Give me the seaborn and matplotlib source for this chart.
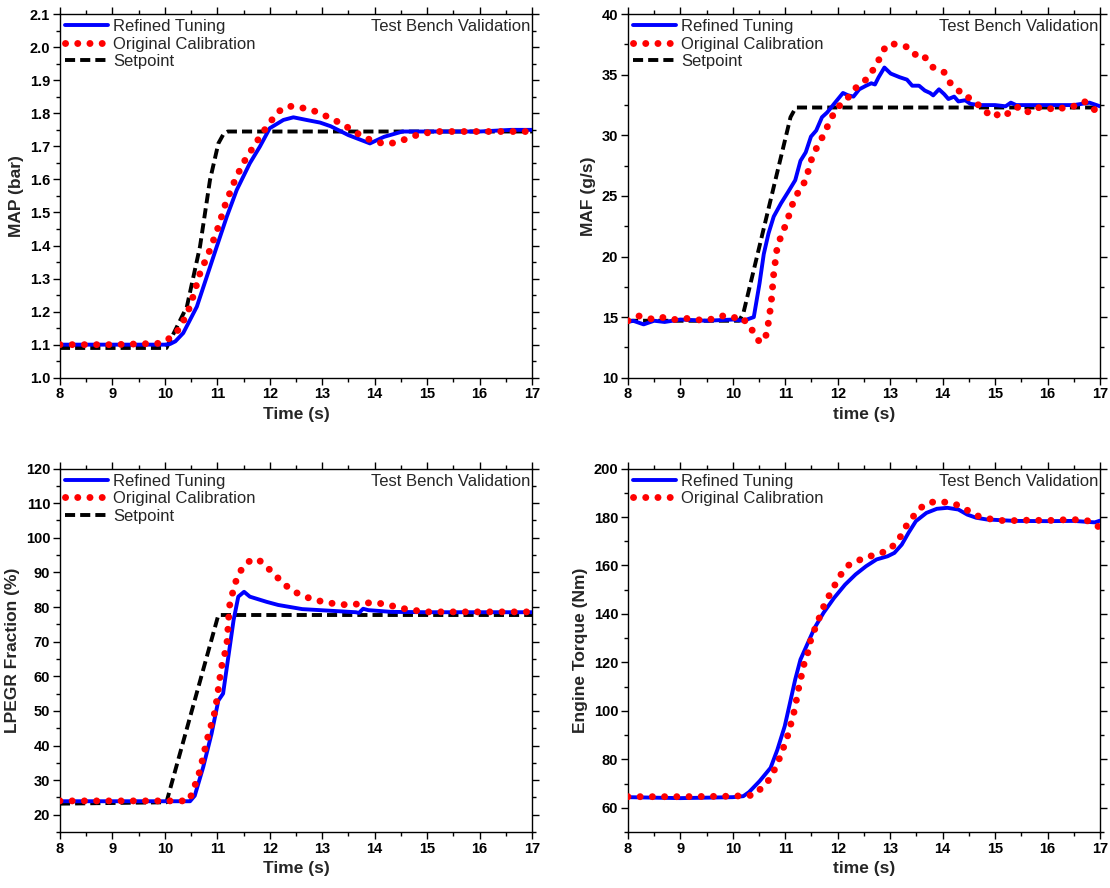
import numpy as np
import seaborn as sns
import matplotlib
matplotlib.use("Agg")
import matplotlib.pyplot as plt
from matplotlib.ticker import MultipleLocator, AutoMinorLocator

# ---- MAP (bar) ----
map_sp_t = [8.0, 10.03, 10.42, 10.67, 10.86, 11.02, 11.12, 11.2, 17.0]
map_sp_v = [1.09, 1.09, 1.215, 1.397, 1.598, 1.709, 1.738, 1.745, 1.745]
map_ref_t = [8.0, 9.0, 10.0, 10.1, 10.2, 10.35, 10.61, 10.8, 10.99, 11.18, 11.37, 11.62,
             11.81, 12.0, 12.26, 12.45, 12.7, 12.96, 13.16, 13.5, 13.91, 14.18, 14.53,
             15.0, 16.0, 16.6, 17.0]
map_ref_v = [1.10, 1.10, 1.10, 1.102, 1.11, 1.135, 1.215, 1.306, 1.397, 1.487, 1.568,
             1.649, 1.699, 1.755, 1.78, 1.788, 1.78, 1.772, 1.761, 1.734, 1.709, 1.729,
             1.745, 1.745, 1.745, 1.75, 1.75]
map_org_t = [8.0, 9.0, 9.91, 10.1, 10.29, 10.48, 10.67, 10.86, 11.02, 11.15, 11.31,
             11.43, 11.53, 11.65, 11.75, 11.94, 12.04, 12.16, 12.35, 12.58, 12.8,
             12.99, 13.2, 13.4, 13.59, 13.78, 14.0, 14.24, 14.46, 14.7, 14.9, 15.2,
             16.0, 17.0]
map_org_v = [1.10, 1.10, 1.104, 1.12, 1.15, 1.215, 1.316, 1.387, 1.457, 1.523, 1.588,
             1.629, 1.659, 1.689, 1.714, 1.759, 1.78, 1.805, 1.822, 1.818, 1.81,
             1.798, 1.782, 1.766, 1.747, 1.729, 1.714, 1.707, 1.714, 1.729, 1.739, 1.745,
             1.745, 1.745]

# ---- MAF (g/s) ----
maf_sp_t = [8.0, 10.12, 10.2, 11.1, 11.2, 17.0]
maf_sp_v = [14.7, 14.7, 15.3, 31.5, 32.3, 32.3]
maf_ref_t = [8.0, 8.1, 8.3, 8.5, 8.7, 9.0, 9.5, 10.0, 10.2, 10.4, 10.51, 10.59, 10.68,
             10.78, 10.92, 11.05, 11.19, 11.29, 11.39, 11.49, 11.59, 11.7, 11.8, 11.93,
             12.1, 12.2, 12.3, 12.41, 12.54, 12.64, 12.71, 12.78, 12.89, 13.01, 13.18,
             13.32, 13.42, 13.55, 13.66, 13.76, 13.82, 13.93, 14.03, 14.11, 14.22, 14.3,
             14.43, 14.53, 14.7, 15.0, 15.2, 15.3, 15.4, 15.8, 16.5, 16.8, 17.0]
maf_ref_v = [14.6, 14.7, 14.4, 14.7, 14.6, 14.8, 14.7, 14.8, 14.7, 15.0, 17.8, 20.2, 21.9,
             23.3, 24.4, 25.3, 26.3, 27.9, 28.6, 29.9, 30.4, 31.5, 31.9, 32.6,
             33.5, 33.3, 33.2, 33.8, 34.1, 34.3, 34.2, 34.8, 35.6, 35.1, 34.8,
             34.6, 34.1, 34.1, 33.7, 33.5, 33.3, 33.8, 33.4, 33.0, 33.2, 32.8,
             32.9, 32.6, 32.5, 32.5, 32.4, 32.7, 32.5, 32.5, 32.5, 32.7, 32.4]
maf_org_t = [8.0, 8.1, 8.2, 8.3, 8.5, 8.7, 8.9, 9.1, 9.3, 9.5, 9.7, 9.8, 10.0, 10.1, 10.2,
             10.3, 10.41, 10.51, 10.61, 10.66, 10.73, 10.78, 10.85, 10.97, 11.05, 11.11,
             11.19, 11.29, 11.39, 11.49, 11.59, 11.7, 11.8, 11.9, 12.0, 12.14, 12.24,
             12.34, 12.44, 12.54, 12.64, 12.74, 12.82, 12.91, 13.01, 13.11, 13.22, 13.32,
             13.42, 13.52, 13.62, 13.72, 13.82, 13.93, 14.03, 14.13, 14.22, 14.33, 14.43,
             14.53, 14.64, 14.74, 14.84, 14.94, 15.04, 15.14, 15.24, 15.34, 15.45, 15.55,
             15.65, 15.75, 15.89, 16.02, 16.12, 16.22, 16.32, 16.43, 16.56, 16.7, 16.8,
             16.9, 17.0]
maf_org_v = [14.7, 14.9, 15.1, 15.0, 14.8, 15.0, 14.8, 14.9, 14.8, 14.7, 15.0, 15.1, 14.9,
             15.1, 14.8, 14.46, 13.6, 12.95, 13.1, 14.0, 16.1, 18.6, 20.9, 22.2, 23.1,
             24.0, 24.9, 25.6, 26.3, 27.9, 28.9, 29.8, 30.7, 31.6, 32.3, 32.9, 33.3,
             33.9, 34.3, 34.6, 35.2, 35.8, 36.6, 37.3, 37.6, 37.5, 37.4, 37.3, 36.8,
             36.6, 36.7, 36.1, 35.6, 35.4, 35.2, 34.4, 34.0, 33.6, 33.5, 32.9, 32.6,
             32.4, 31.9, 31.5, 31.7, 31.5, 31.8, 31.9, 32.4, 32.1, 31.9, 32.2, 32.35,
             32.2, 32.2, 32.1, 32.35, 32.3, 32.5, 32.8, 32.5, 32.1, 32.4]

# ---- LPEGR fraction (%) ----
egr_sp_t = [8.0, 10.03, 11.02, 17.0]
egr_sp_v = [23.2, 23.6, 77.7, 77.7]
egr_ref_t = [8.0, 9.0, 10.0, 10.48, 10.57, 10.73, 10.89, 11.02, 11.11, 11.21, 11.31,
             11.4, 11.51, 11.62, 11.94, 12.16, 12.62, 12.96, 13.3, 13.64,
             13.7, 13.78, 13.88, 14.32, 15.0, 16.0, 17.0]
egr_ref_v = [23.9, 23.9, 23.9, 23.9, 25.5, 33.7, 43.4, 53.0, 55.0, 65.6, 76.2,
             83.0, 84.4, 83.0, 81.5, 80.6, 79.4, 79.1, 78.8, 78.5,
             78.3, 79.5, 79.1, 78.6, 78.5, 78.5, 78.5]
egr_org_t = [8.0, 9.0, 10.0, 10.46, 10.54, 10.67, 10.8, 10.89, 10.96, 11.02, 11.08,
             11.15, 11.19, 11.21, 11.24, 11.34, 11.43, 11.59, 11.77, 11.97, 12.13,
             12.28, 12.47, 12.69, 12.9, 13.13, 13.35, 13.59, 13.81, 14.05, 14.29,
             14.49, 14.73, 14.97, 16.0, 17.0]
egr_org_v = [24.0, 24.0, 24.0, 24.0, 27.0, 32.8, 41.4, 46.3, 50.1, 56.4, 62.7,
             67.0, 70.4, 75.7, 81.1, 86.9, 90.2, 93.1, 93.9, 91.2, 88.8,
             86.5, 84.4, 82.9, 81.9, 81.2, 80.7, 80.7, 81.2, 81.2, 80.5,
             79.7, 79.1, 78.6, 78.6, 78.6]

# ---- Engine torque (Nm) ----
trq_ref_t = [8.0, 9.0, 10.0, 10.2, 10.31, 10.51, 10.72, 10.85, 10.99, 11.09, 11.19,
             11.29, 11.43, 11.56, 11.73, 11.93, 12.14, 12.34, 12.54, 12.74, 12.95, 13.08,
             13.22, 13.35, 13.49, 13.69, 13.89, 14.09, 14.3, 14.47, 14.64, 14.84, 15.11,
             15.38, 16.0, 16.5, 16.9, 17.0]
trq_ref_v = [64.4, 64.0, 64.4, 64.8, 66.5, 71.0, 76.5, 84.0, 93.7, 103.3, 113.0,
             121.2, 128.0, 134.3, 140.5, 146.6, 152.1, 156.3, 159.7, 162.5, 163.8, 165.2,
             168.6, 173.5, 178.3, 181.7, 183.4, 183.8, 183.1, 181.0, 179.7, 179.0, 178.7,
             178.4, 178.3, 178.4, 177.8, 178.5]
trq_org_t = [8.0, 9.0, 10.0, 10.4, 10.48, 10.59, 10.72, 10.82, 10.92, 11.02, 11.07,
             11.12, 11.18, 11.22, 11.26, 11.31, 11.36, 11.43, 11.47, 11.53, 11.59, 11.66,
             11.76, 11.9, 12.0, 12.1, 12.2, 12.3, 12.41, 12.54, 12.68, 12.81, 12.95,
             13.05, 13.15, 13.28, 13.42, 13.55, 13.66, 13.79, 13.93, 14.06, 14.2, 14.33,
             14.47, 14.6, 14.77, 14.97, 15.24, 15.45, 16.05, 16.46, 16.73, 16.86, 16.97,
             17.0]
trq_org_v = [64.6, 64.6, 64.8, 65.2, 66.9, 68.9, 72.4, 76.9, 82.0, 88.2, 91.2,
             95.8, 100.6, 105.4, 109.9, 114.7, 119.5, 124.0, 128.1, 132.2, 135.0, 139.1,
             144.6, 150.1, 154.2, 157.6, 160.0, 161.4, 162.2, 163.6, 164.1, 165.2, 165.9,
             168.0, 170.0, 175.5, 179.7, 183.1, 185.2, 186.1, 186.4, 186.1, 185.6, 184.5,
             182.8, 181.0, 179.7, 179.0, 178.3, 178.7, 178.6, 179.0, 178.6, 177.9, 176.0,
             178.5]

BLUE = "#0000ff"
RED = "#ff0000"
DOTS = (0, (0.01, 1.75))
DASH = (0, (2.6, 1.3))

sns.set_theme(style="ticks")
plt.rcParams["font.family"] = ["Liberation Sans", "DejaVu Sans"]
plt.rcParams["axes.linewidth"] = 1.0
plt.rcParams["axes.edgecolor"] = "black"

fig, axes = plt.subplots(2, 2, figsize=(11.1, 8.88), dpi=100)
fig.subplots_adjust(left=0.054, right=0.991, top=0.984, bottom=0.063,
                    wspace=0.203, hspace=0.25)

panels = [
    (axes[0, 0], map_ref_t, map_ref_v, map_org_t, map_org_v, map_sp_t, map_sp_v,
     "MAP (bar)", "Time (s)", (1.0, 2.1), 0.1, "{:.1f}"),
    (axes[0, 1], maf_ref_t, maf_ref_v, maf_org_t, maf_org_v, maf_sp_t, maf_sp_v,
     "MAF (g/s)", "time (s)", (10, 40), 5, "{:.0f}"),
    (axes[1, 0], egr_ref_t, egr_ref_v, egr_org_t, egr_org_v, egr_sp_t, egr_sp_v,
     "LPEGR Fraction (%)", "Time (s)", (15, 120), 10, "{:.0f}"),
    (axes[1, 1], trq_ref_t, trq_ref_v, trq_org_t, trq_org_v, None, None,
     "Engine Torque (Nm)", "time (s)", (50, 200), 20, "{:.0f}"),
]

for ax, rt, rv, ot, ov, st, sv, ylab, xlab, ylim, ystep, fmt in panels:
    sns.lineplot(x=rt, y=rv, ax=ax, color=BLUE, lw=2.8, label="Refined Tuning",
                 zorder=3)
    sns.lineplot(x=ot, y=ov, ax=ax, color=RED, lw=5, linestyle=DOTS,
                 dash_capstyle="round", label="Original Calibration", zorder=4)
    if st is not None:
        sns.lineplot(x=st, y=sv, ax=ax, color="black", lw=2.8, linestyle=DASH,
                     label="Setpoint", zorder=2)

    ax.set_xlim(8, 17)
    ax.set_ylim(*ylim)
    ax.xaxis.set_major_locator(MultipleLocator(1))
    ax.xaxis.set_minor_locator(AutoMinorLocator(2))
    ax.yaxis.set_major_locator(MultipleLocator(ystep))
    ax.yaxis.set_minor_locator(AutoMinorLocator(2))
    ax.yaxis.set_major_formatter(plt.FuncFormatter(lambda v, p, f=fmt: f.format(v)))
    ax.tick_params(which="both", direction="out", top=True, right=True,
                   labeltop=False, labelright=False, colors="black")
    ax.tick_params(which="major", length=5, width=1.0, labelsize=10.5, pad=2)
    ax.tick_params(which="minor", length=3, width=1.0)
    for lab in ax.get_xticklabels() + ax.get_yticklabels():
        lab.set_fontweight("bold")
    for s in ax.spines.values():
        s.set_visible(True)
        s.set_color("black")

    ax.set_xlabel(xlab, fontsize=12.5, fontweight="bold", labelpad=4)
    ax.set_ylabel(ylab, fontsize=12.5, fontweight="bold", labelpad=4)
    ax.grid(False)

    leg = ax.legend(loc="upper left", frameon=False, fontsize=12,
                    handlelength=2.6, handletextpad=0.3, labelspacing=0.15,
                    borderaxespad=0.1, borderpad=0.2)
    ax.text(0.997, 0.965, "Test Bench Validation", transform=ax.transAxes,
            ha="right", va="center", fontsize=12)

fig.savefig("out.png", dpi=100)
